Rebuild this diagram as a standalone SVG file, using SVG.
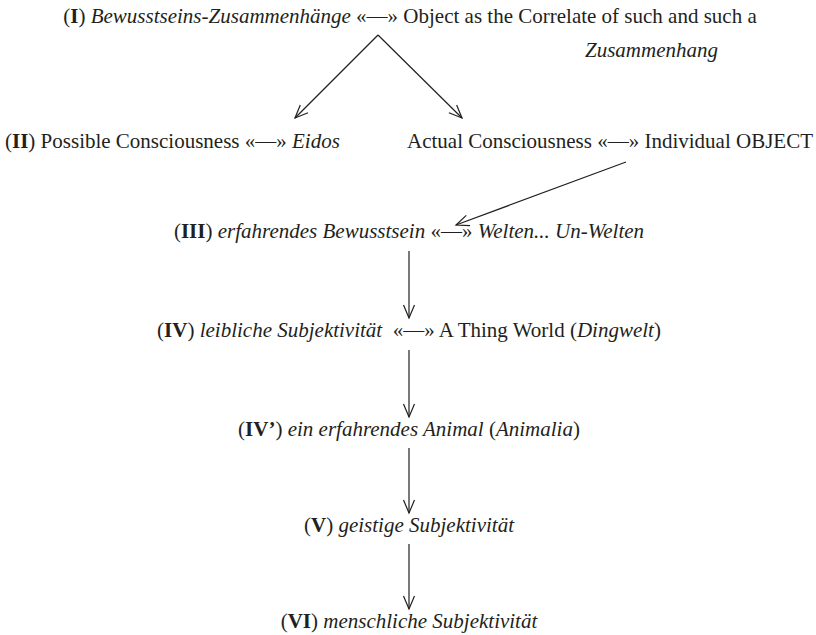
<svg xmlns="http://www.w3.org/2000/svg" width="816" height="635" viewBox="0 0 816 635">
<defs>
<style>
text{font-family:"Liberation Serif","Times New Roman",serif;font-size:21px;fill:#231f20}
.b{font-weight:bold}
.i{font-style:italic}
.c{text-anchor:middle}
.e{text-anchor:end}
.conn line{stroke:#231f20;stroke-width:1.2;fill:none}
</style>
<marker id="ah" markerUnits="userSpaceOnUse" markerWidth="16" markerHeight="16" viewBox="-14 -7 16 14" refX="0" refY="0" orient="auto">
<path d="M-13,-5.5 L0,0 L-13,5.5" fill="none" stroke="#231f20" stroke-width="1.2"/>
</marker>
</defs>
<rect width="816" height="635" fill="#fff"/>
<g id="n1">
<text x="410" y="23" class="c">(<tspan class="b">I</tspan>) <tspan class="i">Bewusstseins-Zusammenhänge</tspan> «—» Object as the Correlate of such and such a</text>
<text x="585" y="57" class="i">Zusammenhang</text>
</g>
<g id="n2a"><text x="5" y="148">(<tspan class="b">II</tspan>) Possible Consciousness «—» <tspan class="i">Eidos</tspan></text></g>
<g id="n2b"><text x="813" y="148" class="e">Actual Consciousness «—» Individual OBJECT</text></g>
<g id="n3"><text x="409" y="238" class="c">(<tspan class="b">III</tspan>) <tspan class="i">erfahrendes Bewusstsein</tspan> «—» <tspan class="i">Welten... Un-Welten</tspan></text></g>
<g id="n4"><text x="409" y="337" class="c">(<tspan class="b">IV</tspan>) <tspan class="i">leibliche Subjektivität</tspan>&#160; «—» A Thing World (<tspan class="i">Dingwelt</tspan>)</text></g>
<g id="n4p"><text x="409" y="436" class="c">(<tspan class="b">IV’</tspan>) <tspan class="i">ein erfahrendes Animal</tspan> (<tspan class="i">Animalia</tspan>)</text></g>
<g id="n5"><text x="409" y="532" class="c">(<tspan class="b">V</tspan>) <tspan class="i">geistige Subjektivität</tspan></text></g>
<g id="n6"><text x="409" y="628" class="c">(<tspan class="b">VI</tspan>) <tspan class="i">menschliche Subjektivität</tspan></text></g>
<g class="conn" id="connectors">
<line x1="378" y1="35" x2="295" y2="118" marker-end="url(#ah)"/>
<line x1="378" y1="35" x2="462" y2="118" marker-end="url(#ah)"/>
<line x1="626" y1="162" x2="456" y2="225" marker-end="url(#ah)"/>
<line x1="409" y1="251" x2="409" y2="318" marker-end="url(#ah)"/>
<line x1="409" y1="350" x2="409" y2="417" marker-end="url(#ah)"/>
<line x1="409" y1="448" x2="409" y2="513" marker-end="url(#ah)"/>
<line x1="409" y1="544" x2="409" y2="609" marker-end="url(#ah)"/>
</g>
</svg>
